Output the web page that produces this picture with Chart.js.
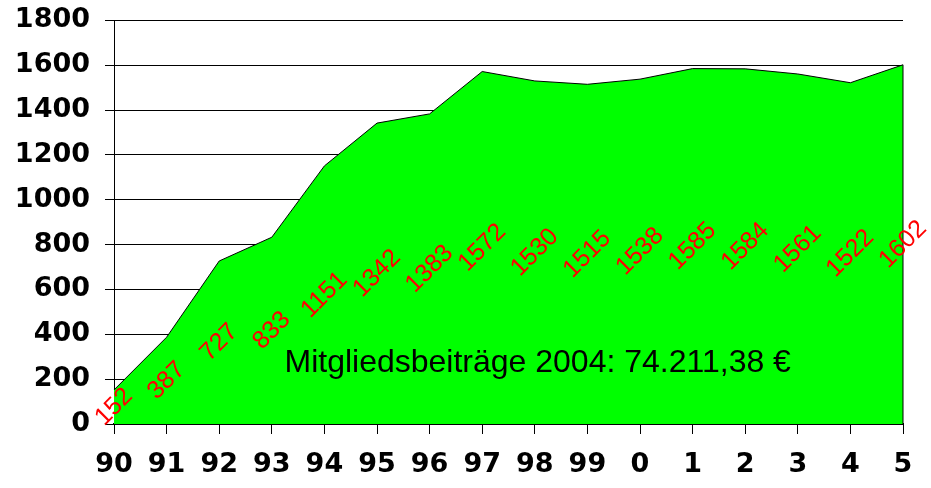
<!DOCTYPE html>
<html>
<head>
<meta charset="utf-8">
<script src="https://cdn.jsdelivr.net/npm/chart.js@4.4.1/dist/chart.umd.min.js"></script>
<style>
  html, body { margin: 0; padding: 0; background: #fff; }
  #wrap { width: 931px; height: 488px; }
</style>
</head>
<body>
<div id="wrap"><canvas id="g-beitraege"></canvas></div>
<script>
// Jahre (x-Achse) und Mitgliederzahlen
var jahre = ['90', '91', '92', '93', '94', '95', '96', '97', '98', '99', '0', '1', '2', '3', '4', '5'];
var mitglieder = [152, 387, 727, 833, 1151, 1342, 1383, 1572, 1530, 1515, 1538, 1585, 1584, 1561, 1522, 1602];
var yTicks = [0, 200, 400, 600, 800, 1000, 1200, 1400, 1600, 1800];
var hinweis = 'Mitgliedsbeiträge 2004: 74.211,38 €';

// rote Werte schräg in der Mitte der Fläche, plus Hinweistext und rechte Kante
var beschriftung = {
  id: 'beschriftung',
  afterDatasetsDraw: function(chart) {
    var ctx = chart.ctx;
    var meta = chart.getDatasetMeta(0);
    var ys = chart.scales.y;
    var area = chart.chartArea;

    // rechte Kante der Fläche
    var last = meta.data[meta.data.length - 1];
    ctx.save();
    ctx.strokeStyle = '#000';
    ctx.lineWidth = 1;
    ctx.beginPath();
    ctx.moveTo(last.x, last.y);
    ctx.lineTo(last.x, ys.getPixelForValue(0));
    ctx.stroke();
    ctx.restore();

    ctx.save();
    ctx.fillStyle = '#FF0000';
    ctx.font = '25px "Liberation Sans", Arial, sans-serif';
    ctx.textAlign = 'center';
    ctx.textBaseline = 'middle';
    mitglieder.forEach(function(v, i) {
      var px = meta.data[i].x;
      var py = ys.getPixelForValue(v / 2);
      ctx.save();
      ctx.translate(px, py);
      ctx.rotate(-Math.PI / 4);
      ctx.fillText(String(v), 0, 0);
      ctx.restore();
    });
    ctx.restore();

    ctx.save();
    ctx.fillStyle = '#000';
    ctx.font = '32px "Liberation Sans", Arial, sans-serif';
    ctx.textAlign = 'center';
    ctx.textBaseline = 'middle';
    ctx.fillText(hinweis, area.left + (area.right - area.left) * 0.537, ys.getPixelForValue(272));
    ctx.restore();
  }
};

var idhtml = document.getElementById('g-beitraege').getContext('2d');
var g_flaeche = new Chart(idhtml, {
  type: 'line',
  data: {
    labels: jahre,
    datasets: [{
      label: 'Mitglieder',
      data: mitglieder,
      fill: 'origin',
      backgroundColor: '#00FF00',
      borderColor: '#000000',
      borderWidth: 1,
      pointRadius: 0,
      tension: 0
    }]
  },
  options: {
    responsive: true,
    maintainAspectRatio: false,
    animation: false,
    layout: { padding: { left: 0, right: 28, top: 0, bottom: 0 } },
    plugins: {
      legend: { display: false },
      tooltip: { enabled: false }
    },
    scales: {
      x: {
        offset: false,
        afterFit: function(axis) { axis.height = 64; },
        grid: { display: true, drawOnChartArea: false, color: '#000', tickLength: 10 },
        border: { color: '#000', width: 2 },
        ticks: {
          color: '#000',
          padding: 15,
          maxRotation: 0,
          autoSkip: false,
          font: { family: '"DejaVu Sans", Verdana, sans-serif', size: 27, weight: 'bold' }
        }
      },
      y: {
        min: 0,
        max: 1800,
        afterBuildTicks: function(axis) {
          axis.ticks = yTicks.map(function(v) { return { value: v }; });
        },
        afterFit: function(axis) { axis.width = 114; },
        grid: { color: '#000', tickLength: 9, lineWidth: 1 },
        border: { color: '#000', width: 1 },
        ticks: {
          color: '#000',
          padding: 15,
          callback: function(v) { return String(v); },
          font: { family: '"DejaVu Sans", Verdana, sans-serif', size: 27, weight: 'bold', lineHeight: 0.4 }
        }
      }
    }
  },
  plugins: [beschriftung]
});
</script>
</body>
</html>
